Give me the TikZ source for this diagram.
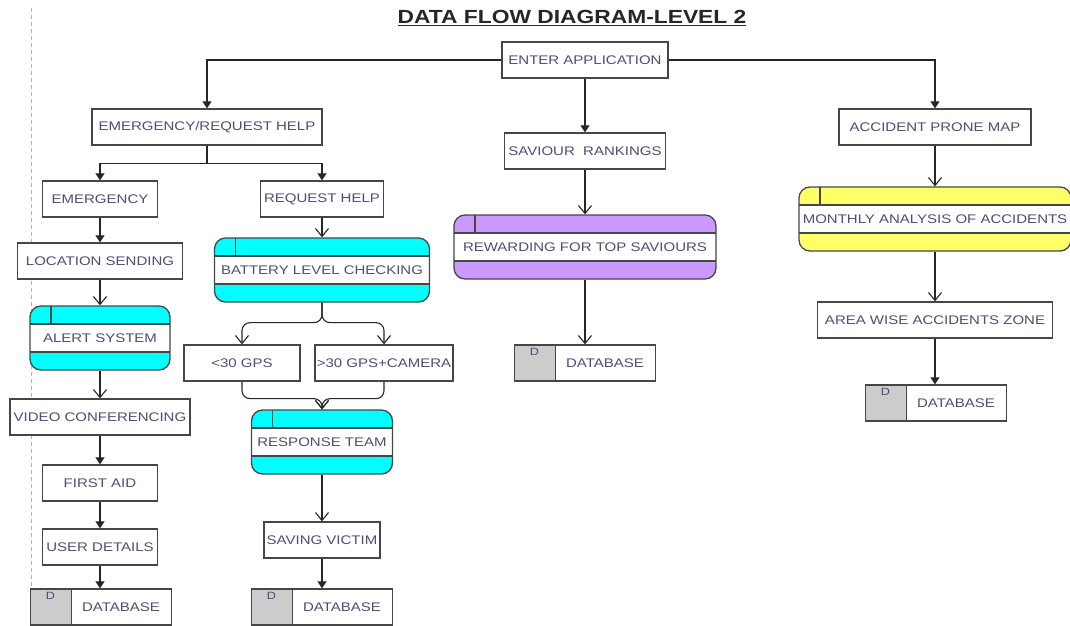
\documentclass[tikz,border=0pt]{standalone}
\usepackage{fontspec}
\setmainfont[FakeStretch=1.2]{Liberation Sans}
\usetikzlibrary{arrows.meta,calc}

\definecolor{txtc}{RGB}{78,78,118}
\definecolor{bordc}{RGB}{70,70,70}
\definecolor{aqua}{RGB}{0,255,255}
\definecolor{lilac}{RGB}{204,153,255}
\definecolor{lemon}{RGB}{255,255,102}
\definecolor{dbgray}{RGB}{204,204,204}

\tikzset{
  box/.style={draw=bordc, line width=1.3pt, fill=white, minimum height=36pt,
    inner sep=1pt, text=txtc, font=\fontsize{12.5}{14}\selectfont},
  procbox/.style={box, rounded corners=11pt, minimum height=64pt, fill=#1,
    path picture={
      \fill[white, sharp corners] ([yshift=-18pt]path picture bounding box.north west)
        rectangle ([yshift=18pt]path picture bounding box.south east);
      \draw[bordc, line width=1.3pt, sharp corners]
        ([yshift=-18pt]path picture bounding box.north west) -- ([yshift=-18pt]path picture bounding box.north east)
        ([yshift=18pt]path picture bounding box.south west) -- ([yshift=18pt]path picture bounding box.south east)
        ([xshift=21pt]path picture bounding box.north west) -- ([xshift=21pt,yshift=-18pt]path picture bounding box.north west);
    }},
  dbbox/.style={box, minimum width=141pt,
    label={[text=txtc, font=\fontsize{12.5}{14}\selectfont, xshift=20pt]center:DATABASE},
    path picture={
      \fill[dbgray] (path picture bounding box.north west) rectangle ([xshift=41pt]path picture bounding box.south west);
      \draw[bordc, line width=1.3pt] ([xshift=41pt]path picture bounding box.north west) -- ([xshift=41pt]path picture bounding box.south west);
      \node[draw=none, fill=none, text=txtc, font=\fontsize{10.5}{12}\selectfont, anchor=north,
        minimum width=0pt, minimum height=0pt, inner sep=2pt]
        at ([xshift=20pt,yshift=-1pt]path picture bounding box.north west) {D};
    }},
  fa/.style={-{Triangle[length=7pt,width=9pt]}, line width=1.1pt, draw=black!85},
  op/.style={-{Straight Barb[length=8pt,width=13pt]}, line width=1.1pt, draw=black!85},
}

\begin{document}
\begin{tikzpicture}[x=1pt, y=-1pt]
\useasboundingbox (0,0) rectangle (1070,625);

% page guide
\draw[black!30, line width=1pt, dash pattern=on 4pt off 3pt] (31,8) -- (31,625);

% title
\node[font=\bfseries\fontsize{19}{22}\selectfont, text=black!85] (ttl) at (572,18) {\underline{DATA FLOW DIAGRAM-LEVEL 2}};

% top level
\node[box, minimum width=166pt] (ent) at (585,60) {ENTER APPLICATION};
\node[box, minimum width=230pt] (erh) at (207,127) {EMERGENCY/REQUEST HELP};
\node[box, minimum width=161pt] (sav) at (585,151) {SAVIOUR\ \ RANKINGS};
\node[box, minimum width=192pt] (apm) at (935,127) {ACCIDENT PRONE MAP};

% emergency branch
\node[box, minimum width=115pt] (emg) at (100,199) {EMERGENCY};
\node[box, minimum width=165pt] (loc) at (100,261) {LOCATION SENDING};
\node[procbox=aqua, minimum width=140pt] (alr) at (100,338) {ALERT SYSTEM};
\node[box, minimum width=180pt] (vid) at (100,417) {VIDEO CONFERENCING};
\node[box, minimum width=115pt] (fst) at (100,483) {FIRST AID};
\node[box, minimum width=115pt] (usr) at (100,547) {USER DETAILS};
\node[dbbox] (dba) at (101,607) {};

% request help branch
\node[box, minimum width=123pt] (rqh) at (322,199) {REQUEST HELP};
\node[procbox=aqua, minimum width=215pt] (bat) at (322,270) {BATTERY LEVEL CHECKING};
\node[box, minimum width=116pt] (lt) at (242,363) {<30 GPS};
\node[box, minimum width=138pt] (gt) at (384,363) {>30 GPS+CAMERA};
\node[procbox=aqua, minimum width=141pt] (res) at (322,442) {RESPONSE TEAM};
\node[box, minimum width=116pt] (svv) at (322,540) {SAVING VICTIM};
\node[dbbox] (dbb) at (322,607) {};

% saviour branch
\node[procbox=lilac, minimum width=262pt] (rew) at (585,247) {REWARDING FOR TOP SAVIOURS};
\node[dbbox] (dbc) at (585,363) {};

% accident map branch
\node[procbox=lemon, minimum width=272pt] (mon) at (935,219) {MONTHLY ANALYSIS OF ACCIDENTS};
\node[box, minimum width=235pt] (are) at (935,320) {AREA WISE ACCIDENTS ZONE};
\node[dbbox] (dbd) at (936,403) {};

% flows
\draw[fa] (ent.west) -| (erh.north);
\draw[fa] (ent) -- (sav);
\draw[fa] (ent.east) -| (apm.north);
\draw[fa] (erh.south) -- ++(0,18) -| (emg.north);
\draw[fa] (erh.south) -- ++(0,18) -| (rqh.north);

\draw[fa] (emg) -- (loc);
\draw[op] (loc) -- (alr);
\draw[op] (alr) -- (vid);
\draw[fa] (vid) -- (fst);
\draw[fa] (fst) -- (usr);
\draw[fa] (usr) -- (usr |- dba.north);

\draw[op] (rqh) -- (bat);
\draw[op, rounded corners=8pt] (bat.south) -- ++(0,20) -| (lt.north);
\draw[op, rounded corners=8pt] (bat.south) -- ++(0,20) -| (gt.north);
\draw[op, rounded corners=8pt] (lt.south) -- ++(0,17) -| (res.north);
\draw[op, rounded corners=8pt] (gt.south) -- ++(0,17) -| (res.north);
\draw[op] (res) -- (svv);
\draw[fa] (svv) -- (dbb);

\draw[op] (sav) -- (rew);
\draw[op] (rew) -- (dbc);

\draw[op] (apm) -- (mon);
\draw[op] (mon) -- (are);
\draw[fa] (are) -- (are |- dbd.north);
\end{tikzpicture}
\end{document}
